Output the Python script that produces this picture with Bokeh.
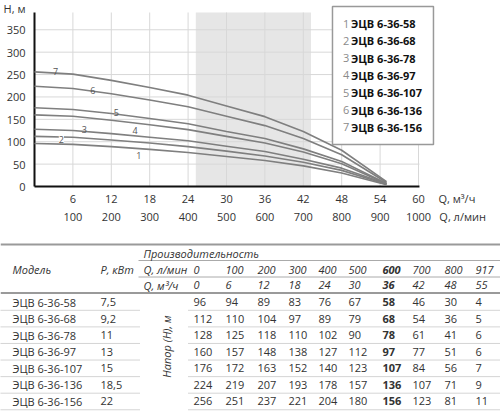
import math
from bokeh.plotting import figure
from bokeh.models import Range1d, LinearAxis, FixedTicker, Label, BoxAnnotation
from bokeh.layouts import column
from bokeh.embed import file_html
from bokeh.resources import INLINE
from bokeh.core.properties import value

FONT = "Open Sans"

# ---------------- data ----------------
q_m3h = [0, 6, 12, 18, 24, 30, 36, 42, 48, 55]
q_lmin = [0, 100, 200, 300, 400, 500, 600, 700, 800, 917]
models = ["ЭЦВ 6-36-58", "ЭЦВ 6-36-68", "ЭЦВ 6-36-78", "ЭЦВ 6-36-97",
          "ЭЦВ 6-36-107", "ЭЦВ 6-36-136", "ЭЦВ 6-36-156"]
powers = ["7,5", "9,2", "11", "13", "15", "18,5", "22"]
h_58 = [96, 94, 89, 83, 76, 67, 58, 46, 30, 4]
h_68 = [112, 110, 104, 97, 89, 79, 68, 54, 36, 5]
h_78 = [128, 125, 118, 110, 102, 90, 78, 61, 41, 6]
h_97 = [160, 157, 148, 138, 127, 112, 97, 77, 51, 6]
h_107 = [176, 172, 163, 152, 140, 123, 107, 84, 56, 7]
h_136 = [224, 219, 207, 193, 178, 157, 136, 107, 71, 9]
h_156 = [256, 251, 237, 221, 204, 180, 156, 123, 81, 11]
heads = [h_58, h_68, h_78, h_97, h_107, h_136, h_156]
nominal_q = 36
work_range = (25.2, 43.2)
x_ticks = [6, 12, 18, 24, 30, 36, 42, 48, 54, 60]
x_ticks_lmin = [100, 200, 300, 400, 500, 600, 700, 800, 900, 1000]
y_ticks = [0, 50, 100, 150, 200, 250, 300, 350]
x_title, x_title_lmin, y_title = "Q, м³/ч", "Q, л/мин", "H, м"

# ---------------- layout / style ----------------
PX_X = 6.4          # px per m3/h
PX_Y = 0.4478       # px per metre
X_MAX, Y_MAX = 60.15, 388.6          # extent of the plotting area
X_START, X_END = -2 / PX_X, 466 / PX_X
Y_START, Y_END = -2 / PX_Y, 182 / PX_Y
X_TITLE_POS, X_TITLE_LMIN_POS, Y_TITLE_POS = 66, 1115, 397
TXT = "#333333"
LINE = "#7f7f7f"
GRID = "#d8d8d8"

# curve-number label positions (data units)
num_x = [16.3, 4.2, 7.8, 15.7, 12.8, 9.1, 3.3]
num_y = [69, 105, 128, 126, 165, 215, 257]

# ---------------- chart ----------------
p = figure(width=500, height=232, x_range=Range1d(X_START, X_END), y_range=Range1d(Y_START, Y_END),
           output_backend="svg", toolbar_location=None,
           min_border_left=32, min_border_right=0, min_border_top=4, min_border_bottom=44)
p.outline_line_color = None
p.frame_align = False
p.grid.visible = False

p.extra_x_ranges = {"lmin": Range1d(X_START * 1000 / 60, X_END * 1000 / 60)}

ax = p.xaxis[0]
ax.ticker = FixedTicker(ticks=x_ticks + [X_TITLE_POS])
ax.major_label_overrides = {X_TITLE_POS: x_title}
ay = p.yaxis[0]
ay.ticker = FixedTicker(ticks=y_ticks + [Y_TITLE_POS])
ay.major_label_overrides = {Y_TITLE_POS: y_title}
ax2 = LinearAxis(x_range_name="lmin", ticker=FixedTicker(ticks=x_ticks_lmin + [X_TITLE_LMIN_POS]))
ax2.major_label_overrides = {X_TITLE_LMIN_POS: x_title_lmin}
p.add_layout(ax2, "below")

for a in (ax, ay, ax2):
    a.major_tick_line_color = None
    a.minor_tick_line_color = None
    a.major_tick_out = 0
    a.major_tick_in = 0
    a.minor_tick_out = 0
    a.minor_tick_in = 0
    a.major_label_text_font = FONT
    a.major_label_text_font_size = "11px"
    a.major_label_text_color = TXT
    a.axis_line_color = None
ax.major_label_standoff = 2
ax2.major_label_standoff = 0
ay.major_label_standoff = 7

# shaded working range
p.quad(left=[work_range[0]], right=[work_range[1]], bottom=[0], top=[Y_MAX],
       fill_color="#e6e6e6", line_color=None)

# grid
p.segment(x0=x_ticks, x1=x_ticks, y0=[0] * len(x_ticks), y1=[Y_MAX] * len(x_ticks),
          line_color=GRID, line_width=1)
gy = y_ticks[1:]
p.segment(x0=[0] * len(gy), x1=[X_MAX] * len(gy), y0=gy, y1=gy, line_color=GRID, line_width=1)

# axis lines
p.segment(x0=[0, 0], x1=[0, X_MAX], y0=[0, 0], y1=[Y_MAX, 0], line_color="#111111", line_width=2)

for h in heads:
    p.line(q_m3h, h, line_color=LINE, line_width=1.6)

for i in range(len(heads)):
    p.add_layout(Label(x=num_x[i], y=num_y[i], text=str(i + 1), text_font=FONT,
                       text_font_size="9px", text_color="#555555",
                       text_align="center", text_baseline="middle",
                       background_fill_color="white" if i == 1 else None))

# legend box
p.add_layout(BoxAnnotation(left=46.56, right=62.34, top=402, bottom=93.8,
                           fill_color="white", fill_alpha=1.0,
                           line_color="#999999", line_width=1.5, line_alpha=1.0))
leg_y0, leg_dy = 364, 38.7
for i, m in enumerate(models):
    yy = leg_y0 - i * leg_dy
    p.add_layout(Label(x=48.2, y=yy, text=str(i + 1), text_font=FONT, text_font_size="11px",
                       text_color="#8a8a8a", text_baseline="middle"))
    p.add_layout(Label(x=49.45, y=yy, text=m, text_font=FONT, text_font_size="11px",
                       text_font_style="bold", text_color="#111111", text_baseline="middle"))

# ---------------- table ----------------
t = figure(width=500, height=179, x_range=Range1d(0, 500), y_range=Range1d(411, 232),
           output_backend="svg", toolbar_location=None, min_border=0,
           x_axis_location=None, y_axis_location=None)
t.outline_line_color = None
t.frame_align = False
t.grid.visible = False

col_model, col_pow, col_lab = 12, 100, 143
col_x = [193, 225, 257, 288, 318, 348, 382, 412, 444, 475]
row0, row_dy = 301.5, 16.58

# rules
t.segment(x0=[0, 0], x1=[500, 500], y0=[244, 292.5], y1=[244, 292.5],
          line_color="#9a9a9a", line_width=2)
t.segment(x0=[138, 138], x1=[500, 500], y0=[260, 276.5], y1=[260, 276.5],
          line_color="#aaaaaa", line_width=1)
dot_y = [row0 + 8.3 + i * row_dy for i in range(len(models))]
t.segment(x0=[0] * len(dot_y), x1=[140] * len(dot_y), y0=dot_y, y1=dot_y,
          line_color="#aaaaaa", line_width=1, line_dash="1 1")
t.segment(x0=[188] * len(dot_y), x1=[500] * len(dot_y), y0=dot_y, y1=dot_y,
          line_color="#aaaaaa", line_width=1, line_dash="1 1")

def txt(xs, ys, texts, style="normal", align="left", angle=0.0, color=TXT):
    t.text(x=xs, y=ys, text=texts, text_font=value(FONT), text_font_size="11px",
           text_font_style=style, text_color=color, text_align=align,
           text_baseline="middle", angle=angle)

# headers
txt([col_lab], [253], ["Производительность"], style="italic")
txt([col_model, col_pow, col_lab], [269, 269, 269], ["Модель", "P, кВт", "Q, л/мин"], style="italic")
txt([col_lab], [284.5], ["Q, м³/ч"], style="italic")
for j, q in enumerate(q_m3h):
    st = "bold italic" if q == nominal_q else "italic"
    txt([col_x[j], col_x[j]], [269, 284.5], [str(q_lmin[j]), str(q)], style=st)

# rotated label
txt([166], [346], ["Напор (H), м"], style="italic", align="center", angle=math.pi / 2)

# rows
ry = [row0 + i * row_dy for i in range(len(models))]
txt([col_model] * len(models), ry, models)
txt([col_pow] * len(models), ry, powers)
for j, q in enumerate(q_m3h):
    vals = [str(h[j]) for h in heads]
    txt([col_x[j]] * len(models), ry, vals, style="bold" if q == nominal_q else "normal")

layout = column(p, t, spacing=0)
open("out.html", "w").write(file_html(layout, INLINE))
